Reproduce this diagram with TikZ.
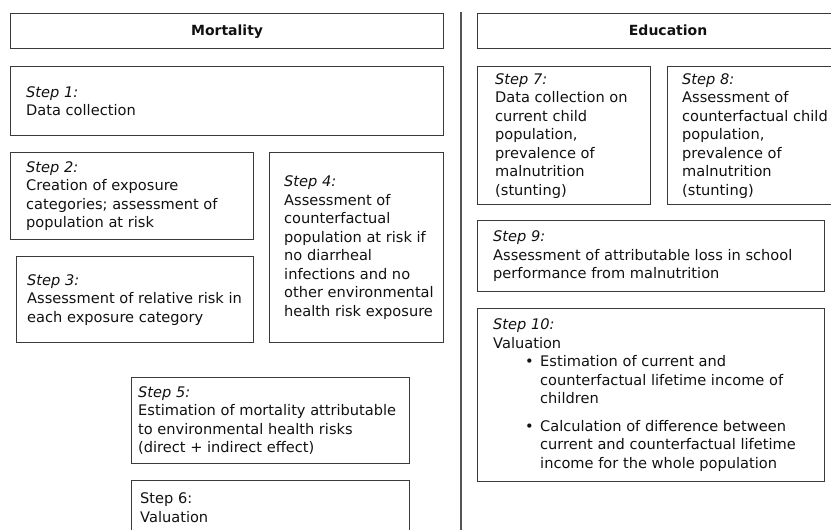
\documentclass[tikz,border=0pt]{standalone}
\usepackage{fontspec}
\setmainfont{DejaVu Sans}
\usetikzlibrary{positioning}

\definecolor{boxline}{HTML}{3A3A3A}
\definecolor{boxtext}{HTML}{111111}
\definecolor{divline}{HTML}{555555}

\tikzset{
  stepbox/.style={draw=boxline, line width=1.2pt, rectangle, inner sep=0pt, anchor=north west},
  steptext/.style={align=left, inner sep=0pt, text=boxtext, font=\fontsize{14.6}{18.5}\selectfont},
  headbox/.style={stepbox, text=boxtext, text height=10pt, text depth=1pt, font=\fontsize{14}{16}\selectfont\bfseries}
}
\newcommand{\stepname}[1]{\textit{Step #1:}}
\newcommand{\stepbullet}{\hspace*{32pt}\makebox[15pt][l]{\textbullet}}
\newcommand{\bulletcont}{\hspace*{47pt}}

\begin{document}
\begin{tikzpicture}[x=1pt, y=-1pt]
                        \useasboundingbox (0,0) rectangle (831,530);
                        \clip (0,0) rectangle (831,530);

                        % Drawing divider between the columns
                        \draw [line width=1.5pt, draw=divline] (461,12) -- (461,540);%

                        % Drawing heading boxes
                        \node [headbox, minimum width=433pt, minimum height=35pt] (mort) at (10,13) {Mortality};%
                        \node [headbox, minimum width=381pt, minimum height=35pt] (educ) at (477,13) {Education};%

                        % Drawing step 1
                        \node [stepbox, minimum width=433pt, minimum height=69pt] (s1) at (10,66) {};%
                        \node [steptext, right=16pt of s1.west] (t1) {\stepname{1}\\Data collection};%

                        % Drawing step 2
                        \node [stepbox, minimum width=243pt, minimum height=87pt] (s2) at (10,152) {};%
                        \node [steptext, right=16pt of s2.west] (t2) {\stepname{2}\\Creation of exposure\\categories; assessment of\\population at risk};%

                        % Drawing step 3
                        \node [stepbox, minimum width=237pt, minimum height=86pt] (s3) at (16,256) {};%
                        \node [steptext, right=11pt of s3.west] (t3) {\stepname{3}\\Assessment of relative risk in\\each exposure category};%

                        % Drawing step 4
                        \node [stepbox, minimum width=174pt, minimum height=190pt] (s4) at (269,152) {};%
                        \node [steptext, right=15pt of s4.west] (t4) {\stepname{4}\\Assessment of\\counterfactual\\population at risk if\\no diarrheal\\infections and no\\other environmental\\health risk exposure};%

                        % Drawing step 5
                        \node [stepbox, minimum width=278pt, minimum height=86pt] (s5) at (131,377) {};%
                        \node [steptext, right=7pt of s5.west] (t5) {\stepname{5}\\Estimation of mortality attributable\\to environmental health risks\\(direct + indirect effect)};%

                        % Drawing step 6
                        \node [stepbox, minimum width=278pt, minimum height=54pt] (s6) at (131,480) {};%
                        \node [steptext, right=9pt of s6.west] (t6) {Step 6:\\Valuation};%

                        % Drawing step 7
                        \node [stepbox, minimum width=173pt, minimum height=138pt] (s7) at (477,66) {};%
                        \node [steptext, right=18pt of s7.west] (t7) {\stepname{7}\\Data collection on\\current child\\population,\\prevalence of\\malnutrition\\(stunting)};%

                        % Drawing step 8
                        \node [stepbox, minimum width=191pt, minimum height=138pt] (s8) at (667,66) {};%
                        \node [steptext, right=15pt of s8.west] (t8) {\stepname{8}\\Assessment of\\counterfactual child\\population,\\prevalence of\\malnutrition\\(stunting)};%

                        % Drawing step 9
                        \node [stepbox, minimum width=347pt, minimum height=71pt] (s9) at (477,220) {};%
                        \node [steptext, right=16pt of s9.west] (t9) {\stepname{9}\\Assessment of attributable loss in school\\performance from malnutrition};%

                        % Drawing step 10
                        \node [stepbox, minimum width=347pt, minimum height=173pt] (s10) at (477,308) {};%
                        \node [steptext, right=16pt of s10.west] (t10) {\stepname{10}\\Valuation\\
                          \stepbullet Estimation of current and\\
                          \bulletcont counterfactual lifetime income of\\
                          \bulletcont children\\[9pt]
                          \stepbullet Calculation of difference between\\
                          \bulletcont current and counterfactual lifetime\\
                          \bulletcont income for the whole population};%
                    \end{tikzpicture}
\end{document}
